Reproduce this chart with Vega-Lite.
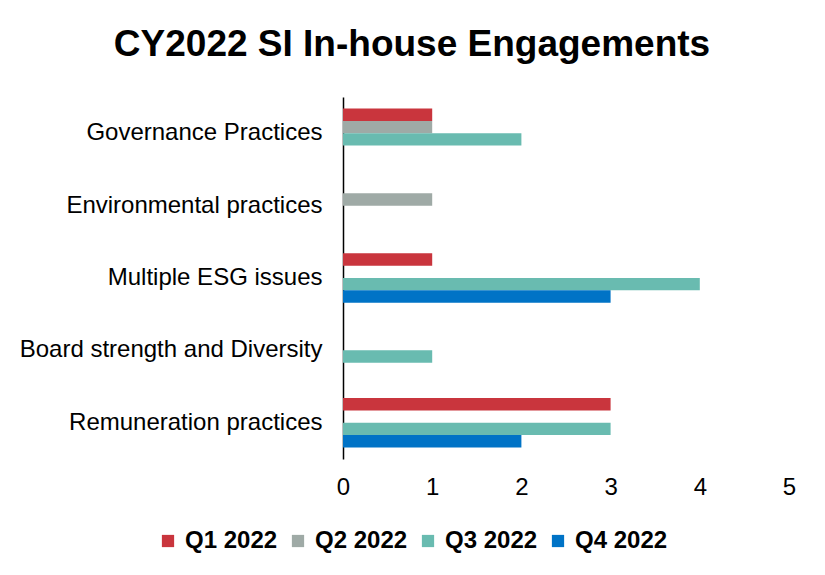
{
  "$schema": "https://vega.github.io/schema/vega-lite/v6.json",
  "autosize": {"type": "none"},
  "width": 446,
  "height": 362,
  "padding": {"left": 343, "top": 97, "right": 36, "bottom": 116},
  "background": "white",
  "title": {
    "text": "CY2022 SI In-house Engagements",
    "font": "Liberation Sans",
    "fontSize": 37,
    "fontWeight": "bold",
    "color": "black",
    "anchor": "middle",
    "dx": -154,
    "offset": 33
  },
  "data": {
    "values": [
      {"category": "Governance Practices", "quarter": "Q1 2022", "count": 1},
      {"category": "Governance Practices", "quarter": "Q2 2022", "count": 1},
      {"category": "Governance Practices", "quarter": "Q3 2022", "count": 2},
      {"category": "Governance Practices", "quarter": "Q4 2022", "count": 0},
      {"category": "Environmental practices", "quarter": "Q1 2022", "count": 0},
      {"category": "Environmental practices", "quarter": "Q2 2022", "count": 1},
      {"category": "Environmental practices", "quarter": "Q3 2022", "count": 0},
      {"category": "Environmental practices", "quarter": "Q4 2022", "count": 0},
      {"category": "Multiple ESG issues", "quarter": "Q1 2022", "count": 1},
      {"category": "Multiple ESG issues", "quarter": "Q2 2022", "count": 0},
      {"category": "Multiple ESG issues", "quarter": "Q3 2022", "count": 4},
      {"category": "Multiple ESG issues", "quarter": "Q4 2022", "count": 3},
      {"category": "Board strength and Diversity", "quarter": "Q1 2022", "count": 0},
      {"category": "Board strength and Diversity", "quarter": "Q2 2022", "count": 0},
      {"category": "Board strength and Diversity", "quarter": "Q3 2022", "count": 1},
      {"category": "Board strength and Diversity", "quarter": "Q4 2022", "count": 0},
      {"category": "Remuneration practices", "quarter": "Q1 2022", "count": 3},
      {"category": "Remuneration practices", "quarter": "Q2 2022", "count": 0},
      {"category": "Remuneration practices", "quarter": "Q3 2022", "count": 3},
      {"category": "Remuneration practices", "quarter": "Q4 2022", "count": 2}
    ]
  },
  "mark": {"type": "bar"},
  "encoding": {
    "y": {
      "field": "category",
      "type": "nominal",
      "sort": ["Governance Practices", "Environmental practices", "Multiple ESG issues", "Board strength and Diversity", "Remuneration practices"],
      "scale": {"paddingInner": 0.318, "paddingOuter": 0.16},
      "axis": {
        "title": null,
        "ticks": false,
        "domainColor": "black",
        "domainWidth": 1.5,
        "labelFont": "Liberation Sans",
        "labelFontSize": 24,
        "labelColor": "black",
        "labelPadding": 21,
        "labelLimit": 400
      }
    },
    "yOffset": {
      "field": "quarter",
      "type": "nominal",
      "sort": ["Q1 2022", "Q2 2022", "Q3 2022", "Q4 2022"],
      "scale": {"paddingInner": 0, "paddingOuter": 0}
    },
    "x": {
      "field": "count",
      "type": "quantitative",
      "scale": {"domain": [0, 5], "nice": false},
      "axis": {
        "title": null,
        "values": [0, 1, 2, 3, 4, 5],
        "grid": false,
        "domain": false,
        "ticks": false,
        "labelFont": "Liberation Sans",
        "labelFontSize": 24,
        "labelColor": "black",
        "labelPadding": 16,
        "labelFlush": false
      }
    },
    "color": {
      "field": "quarter",
      "type": "nominal",
      "sort": ["Q1 2022", "Q2 2022", "Q3 2022", "Q4 2022"],
      "scale": {
        "domain": ["Q1 2022", "Q2 2022", "Q3 2022", "Q4 2022"],
        "range": ["#C9353D", "#9FAAA6", "#69BBB0", "#0073C6"]
      },
      "legend": {
        "title": null,
        "orient": "none",
        "direction": "horizontal",
        "legendX": -187,
        "legendY": 432,
        "symbolType": "square",
        "symbolSize": 150,
        "symbolStrokeWidth": 0,
        "symbolOpacity": 1,
        "labelFont": "Liberation Sans",
        "labelFontSize": 24,
        "labelFontWeight": "bold",
        "labelColor": "black",
        "labelOffset": 5,
        "columnPadding": 8
      }
    }
  },
  "config": {
    "view": {"stroke": null},
    "bar": {"discreteBandSize": 0}
  }
}
